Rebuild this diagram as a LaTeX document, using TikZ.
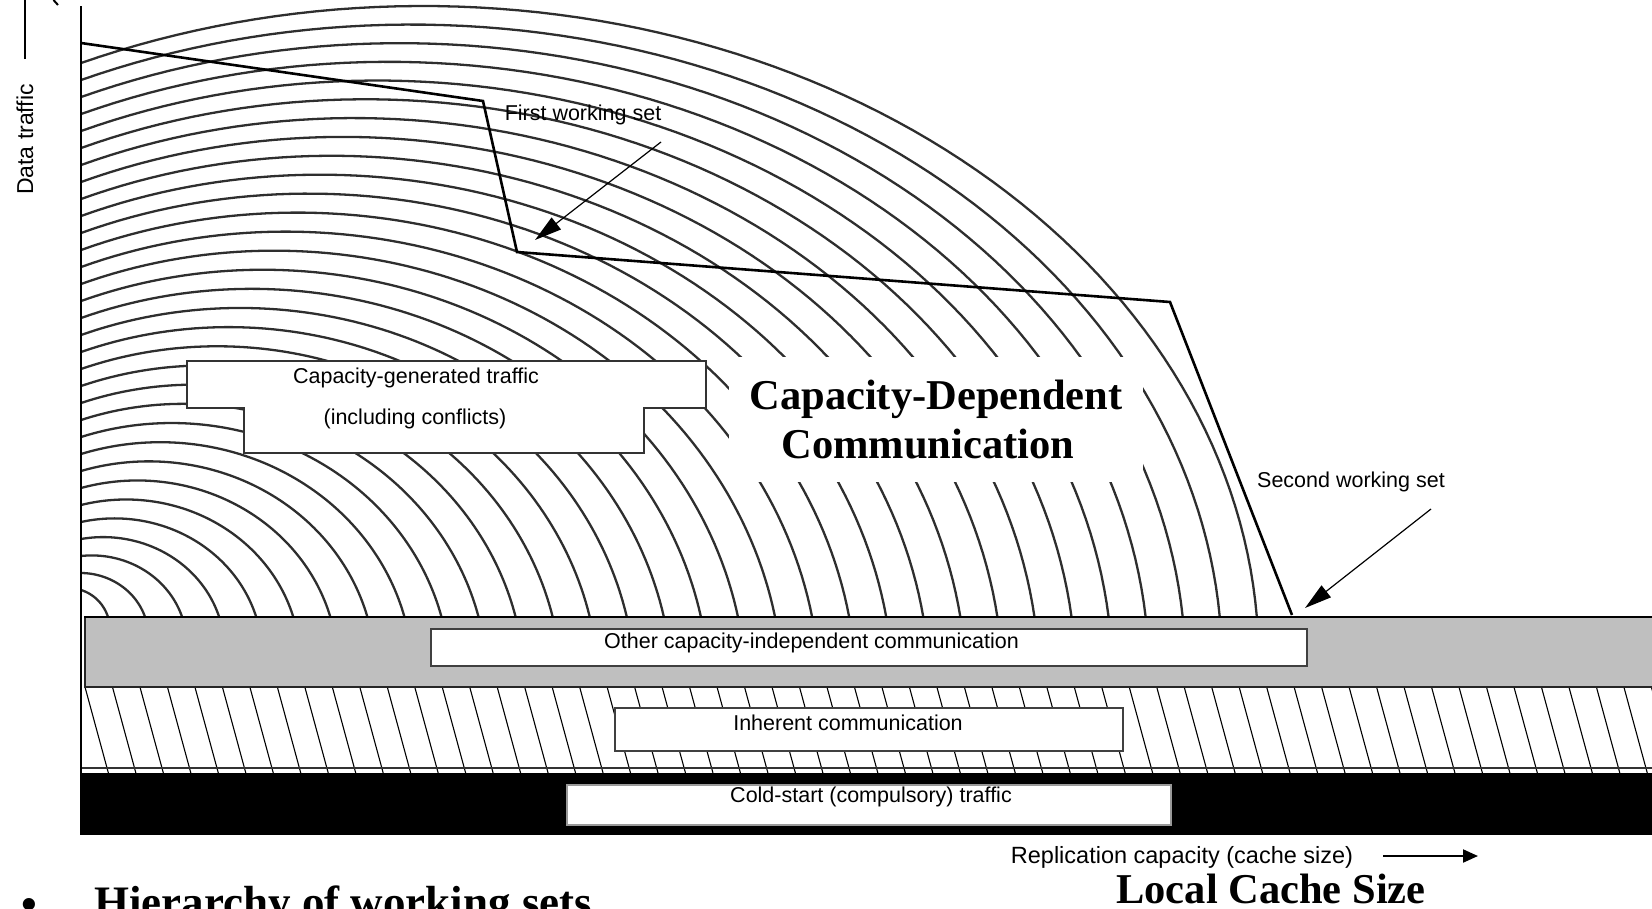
\documentclass[tikz,border=0pt]{standalone}
\usepackage{fontspec}
\setmainfont{Liberation Sans}
\newfontfamily\headfont{Liberation Serif}
\usetikzlibrary{arrows.meta}

\begin{document}
\begin{tikzpicture}[x=1pt,y=-1pt,
  contour/.style={draw=black!82, line width=2.3pt, line join=round},
  hatchline/.style={draw=black, line width=1.1pt},
  labelbox/.style={draw=black!75, line width=1.4pt, fill=white, inner sep=0pt},
  smalltext/.style={font=\fontsize{21.5}{24}\selectfont, inner sep=0pt, anchor=base},
  bigtext/.style={font=\headfont\bfseries\fontsize{42.5}{49}\selectfont, inner sep=0pt, anchor=base},
  pointer/.style={draw=black, line width=1.2pt, -{Triangle[length=27pt,width=15pt]}},
  setline/.style={draw=black, line width=2.6pt, line join=miter},
]
\useasboundingbox (0,0) rectangle (1652,908);
\clip (0,0) rectangle (1652,908);

% capacity-generated traffic: nested elliptical contours
% (computed in units of 100pt; each ellipse passes through its axis
%  crossing and its band crossing, centre a little below the band)
\foreach \i in {1,...,32}{
  \pgfmathsetmacro\eT{(\i-1)/31}
  \pgfmathsetmacro\eR{1.08+0.3706*(\i-1)}
  \pgfmathsetmacro\eY{5.90-0.17*(\i-1)}
  \pgfmathsetmacro\eC{0.69+3.535*\eT}
  \pgfmathsetmacro\eD{6.30+0.30*\eT+2.0*\eT*(1-\eT)}
  \pgfmathsetmacro\ea{(\eR-\eC)^2}
  \pgfmathsetmacro\eb{(6.17-\eD)^2}
  \pgfmathsetmacro\ec{(0.81-\eC)^2}
  \pgfmathsetmacro\ed{(\eY-\eD)^2}
  \pgfmathsetmacro\eDet{\ea*\ed-\eb*\ec}
  \pgfmathsetmacro\eA{sqrt(\eDet/(\ed-\eb))}
  \pgfmathsetmacro\eB{sqrt(\eDet/(\ea-\ec))}
  \pgfmathsetmacro\ePhiR{atan2((\eD-6.17)/\eB,(\eR-\eC)/\eA)}
  \pgfmathsetmacro\ePhiL{atan2((\eD-\eY)/\eB,(0.81-\eC)/\eA)}
  \draw[contour] plot[domain=\ePhiR:\ePhiL, samples=80, variable=\u]
    ({100*(\eC+\eA*cos(\u))},{100*(\eD-\eB*sin(\u))});
}

% inherent communication: slanted hatching
\foreach \k in {0,...,57}
  \draw[hatchline] ({85+27.48*\k},687) -- ({85+27.48*\k+23.4},773);
\draw[draw=black!80, line width=2.2pt] (81,768) -- (1660,768);

% other capacity-independent communication band
\path[fill=black!25, draw=black!85, line width=2pt] (85,617) rectangle (1662,687);
\draw[line width=2.8pt] (84,617) -- (1662,617);

% cold-start band
\fill[black] (81,773) rectangle (1662,835);

% data-traffic axis
\draw[line width=2pt] (81,6) -- (81,835);

% white label boxes
\path[fill=white, draw=black!80, line width=1.4pt]
  (187,361) -- (706,361) -- (706,408) -- (644,408) -- (644,453)
  -- (244,453) -- (244,408) -- (187,408) -- cycle;
\fill[white] (729,357) rectangle (1143,482);
\node[labelbox, minimum width=876pt, minimum height=37pt] (otherbox) at (869,647.5) {};
\node[labelbox, minimum width=508pt, minimum height=43pt] (inhbox) at (869,729.5) {};
\node[labelbox, draw=black!40, minimum width=604pt, minimum height=40pt] (coldbox) at (869,805) {};

% working-set curve
\coordinate (ws0) at (81,43);
\coordinate (ws1) at (483,101);
\coordinate (ws2) at (517,252);
\coordinate (ws3) at (1170,302);
\coordinate (ws4) at (1292,615);
\draw[setline] (ws0) -- (ws1) -- (ws2) -- (ws3) -- (ws4);

% pointers
\coordinate (fwsTail) at (661,142);
\coordinate (fwsTip) at (535,240);
\draw[pointer] (fwsTail) -- (fwsTip);
\coordinate (swsTail) at (1431,509);
\coordinate (swsTip) at (1305,608);
\draw[pointer] (swsTail) -- (swsTip);
\coordinate (repTail) at (1383,856);
\coordinate (repTip) at (1478,856);
\draw[line width=2pt, -{Triangle[length=15pt,width=13pt]}] (repTail) -- (repTip);

% axis label and its arrow shaft
\coordinate (dtTail) at (25,59);
\coordinate (dtHead) at (25,0);
\draw[line width=2pt] (dtTail) -- (dtHead);
\draw[line width=2pt] (53.5,0) -- (58,5);
\node[font=\fontsize{23}{26}\selectfont, inner sep=0pt, anchor=base, rotate=90] (dtlabel) at (33,139.5) {Data traffic};

% labels
\node[smalltext] (fwslabel) at (583,120) {First working set};
\node[smalltext] (swslabel) at (1351,487) {Second working set};
\node[smalltext] (capgen1) at (416,383) {Capacity-generated traffic};
\node[smalltext] (capgen2) at (415,424) {(including conflicts)};
\node[smalltext] (otherlabel) at (811.5,648) {Other capacity-independent communication};
\node[smalltext] (inhlabel) at (848,730) {Inherent communication};
\node[smalltext] (coldlabel) at (871,802) {Cold-start (compulsory) traffic};
\node[font=\fontsize{23.5}{26}\selectfont, inner sep=0pt, anchor=base] (replabel) at (1182,863) {Replication capacity (cache size)};

\node[bigtext] (cdc1) at (936,409) {Capacity-Dependent};
\node[bigtext] (cdc2) at (928,458) {Communication};
\node[bigtext] (lcs) at (1271,903) {Local Cache Size};

\node[font=\headfont\bfseries\fontsize{45}{50}\selectfont, inner sep=0pt, anchor=base] (bullet) at (29,919) {\textbullet};
\node[font=\headfont\bfseries\fontsize{45}{50}\selectfont, inner sep=0pt, anchor=base west] (hier) at (94,917) {Hierarchy of working sets};
\end{tikzpicture}
\end{document}
